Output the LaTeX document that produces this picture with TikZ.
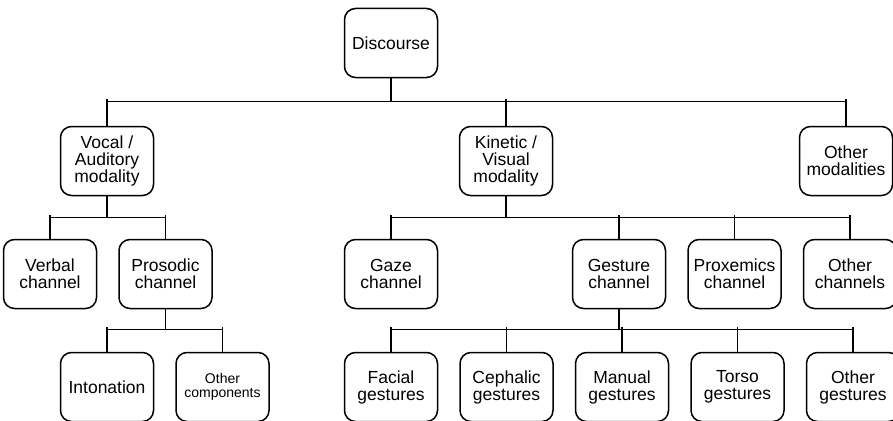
\documentclass[tikz,border=0pt]{standalone}
\usepackage{fontspec}
\setmainfont{Liberation Sans}
\usetikzlibrary{positioning,calc}

\begin{document}
\begin{tikzpicture}[
    x=1pt, y=1pt,
    node distance=21pt,
    box/.style={rectangle, draw=black, line width=1.5pt, rounded corners=11pt, minimum width=93pt, minimum height=69pt, align=center, inner sep=2pt, font=\fontsize{17.5}{17}\selectfont},
    small/.style={font=\fontsize{14}{13.5}\selectfont},
    link/.style={line width=1.5pt}
]
    \useasboundingbox (0,0) rectangle (893,-420);

    % top
    \node[box] (disc) at (391,-43) {Discourse};

    % modalities
    \node[box] (vocal) at (107,-161) {Vocal /\\Auditory\\modality};
    \node[box] (kinetic) at (506,-161) {Kinetic /\\Visual\\modality};
    \node[box] (othermod) at (846,-161) {Other\\modalities};

    % channels
    \node[box] (verbal) at (50,-274) {Verbal\\channel};
    \node[box, right=of verbal] (prosodic) {Prosodic\\channel};
    \node[box] (gaze) at (391,-274) {Gaze\\channel};
    \node[box] (gesture) at (619,-274) {Gesture\\channel};
    \node[box, right=of gesture] (proxemics) {Proxemics\\channel};
    \node[box, right=of proxemics] (otherch) {Other\\channels};

    % components and gestures
    \node[box] (inton) at (107,-387) {Intonation};
    \node[box, small, right=of inton] (othercomp) {Other\\components};
    \node[box] (facial) at (391,-387) {Facial\\gestures};
    \node[box, right=of facial] (cephalic) {Cephalic\\gestures};
    \node[box, right=of cephalic] (manual) {Manual\\gestures};
    \node[box, right=of manual] (torso) {Torso\\gestures};
    \node[box, right=of torso] (othergest) {Other\\gestures};

    % buses
    \coordinate (busA) at ([yshift=-23pt]disc.south);
    \coordinate (busB) at ([yshift=-21pt]vocal.south);
    \coordinate (busC) at ([yshift=-21pt]kinetic.south);
    \coordinate (busD) at ([yshift=-20pt]prosodic.south);
    \coordinate (busE) at ([yshift=-20pt]gesture.south);

    \foreach \c in {vocal,kinetic,othermod}
        \draw[link] (disc.south) -- (busA) -| (\c.north) (\c.north |- busA) -- ++(0,2.5);
    \foreach \c in {verbal,prosodic}
        \draw[link] (vocal.south) -- (busB) -| (\c.north) (\c.north |- busB) -- ++(0,2.5);
    \foreach \c in {gaze,gesture,proxemics,otherch}
        \draw[link] (kinetic.south) -- (busC) -| (\c.north) (\c.north |- busC) -- ++(0,2.5);
    \foreach \c in {inton,othercomp}
        \draw[link] (prosodic.south) -- (busD) -| (\c.north) (\c.north |- busD) -- ++(0,2.5);
    \foreach \c in {facial,cephalic,manual,torso,othergest}
        \draw[link] (gesture.south) -- (busE) -| (\c.north) (\c.north |- busE) -- ++(0,2.5);
\end{tikzpicture}
\end{document}
